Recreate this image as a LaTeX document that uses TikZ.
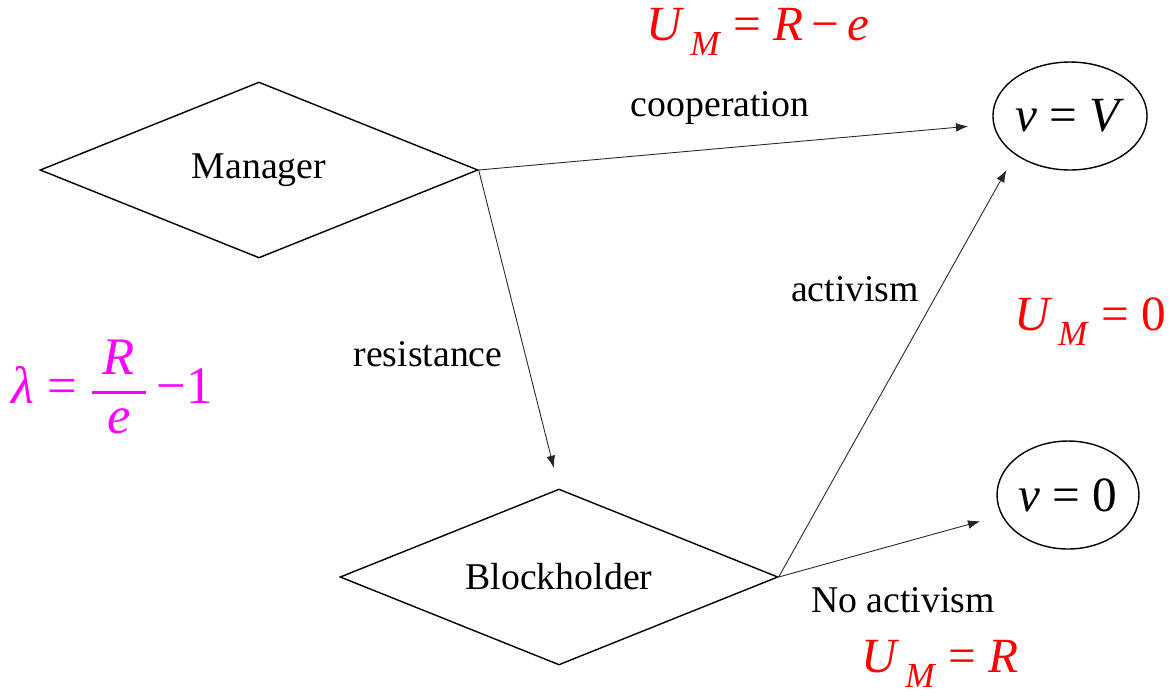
\documentclass[tikz,border=0pt]{standalone}
\usepackage{amsmath}
\usepackage{fontspec}
\setmainfont{Liberation Serif}
\usetikzlibrary{shapes.geometric, arrows.meta}

\definecolor{lampink}{RGB}{255,0,255}
\newcommand{\utilM}{\textit{U}\kern0.12em\raisebox{-0.3em}{\fontsize{20}{22}\selectfont\textit{M}}}

\begin{document}
\begin{tikzpicture}[
            x=0.02cm, y=-0.02cm,
            player/.style={draw, diamond, aspect=2.5, line width=0.8pt, minimum width=8.76cm, minimum height=3.52cm, inner sep=0pt, font=\fontsize{21.5}{26}\selectfont},
            outcome/.style={draw, ellipse, line width=0.8pt, minimum width=2.84cm, minimum height=2.16cm, inner sep=0pt, font=\fontsize{28}{32}\selectfont},
            move/.style={draw=black!85, line width=0.5pt, -{Latex[length=7pt,width=5pt]}},
            lbl/.style={font=\fontsize{21.5}{26}\selectfont},
            payoff/.style={text=red, font=\fontsize{28}{32}\selectfont}
        ]
            \useasboundingbox (0,0) rectangle (1173,698);

            \node[player] (mgr) at (259,170) {Manager};
            \node[player] (bh) at (559,577) {Blockholder};
            \node[outcome] (vV) at (1070,116) {\textit{v} = \textit{V}};
            \node[outcome] (v0) at (1068,495) {\textit{v} = 0};

            \draw[move, shorten >=0.5cm] (mgr.east) -- (vV.186);
            \draw[move, shorten >=0.42cm] (mgr.east) -- (bh.north);
            \draw[move, shorten >=0.35cm] (bh.east) -- (vV.south west);
            \draw[move, shorten >=0.44cm] (bh.east) -- (v0.197);

            \node[lbl] (coop) at (720,108) {cooperation};
            \node[lbl] (resist) at (428,354) {resistance};
            \node[lbl] (act) at (855,289) {activism};
            \node[lbl] (noact) at (903,600) {No activism};

            \node[payoff] (pcoop) at (758,32) {\utilM\ = \textit{R}\,−\,\textit{e}};
            \node[payoff] (pact) at (1090,322) {\utilM\ = 0};
            \node[payoff] (pnoact) at (940,664) {\utilM\ = \textit{R}};
            \node[text=lampink, font=\fontsize{30}{34}\selectfont] (lam) at (112,387)
                {\textit{λ} = $\displaystyle\genfrac{}{}{1.6pt}{}{\kern0.2em\textit{R}\kern0.2em}{\textit{e}}$\,−1};
        \end{tikzpicture}
\end{document}
